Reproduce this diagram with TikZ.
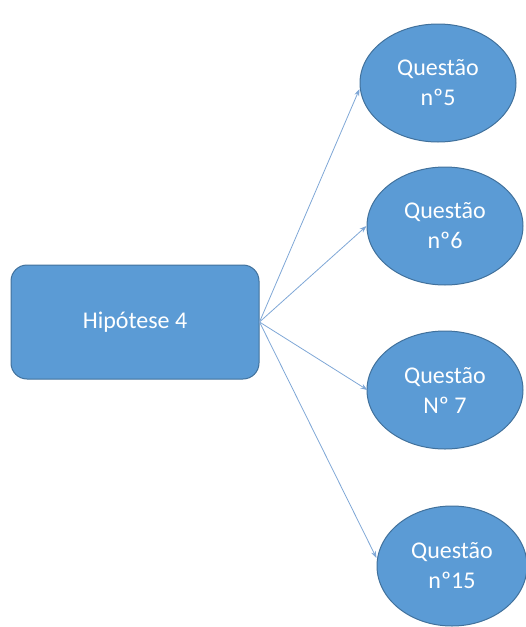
\documentclass[tikz,border=0pt]{standalone}
\usepackage{fontspec}
\setmainfont{Carlito}
\usetikzlibrary{shapes.geometric,arrows.meta}
\definecolor{boxfill}{HTML}{5B9BD5}
\definecolor{boxline}{HTML}{41719C}
\definecolor{linkline}{HTML}{7FA7D6}
\begin{document}
\begin{tikzpicture}[x=1pt,y=-1pt,
  hyp/.style={draw=boxline,line width=1pt,fill=boxfill,rounded corners=16pt,
    minimum width=248pt,minimum height=114pt,text=white,
    font=\fontsize{24}{30}\selectfont},
  quest/.style={ellipse,draw=boxline,line width=1pt,fill=boxfill,
    minimum width=156pt,minimum height=118pt,inner sep=0pt,text=white,
    align=center,font=\fontsize{24}{30}\selectfont},
  link/.style={draw=linkline,line width=0.8pt,-{Stealth[length=7pt,width=5pt]}}]
\useasboundingbox (0,0) rectangle (526,627);
\node[hyp] (h) at (135,322) {Hipótese 4};
\node[quest] (q5) at (438,83) {Questão\\nº5};
\node[quest] (q6) at (445,226) {Questão\\nº6};
\node[quest] (q7) at (445,390) {Questão\\Nº 7};
\node[quest,minimum width=150pt,minimum height=120pt] (q15) at (452,566) {Questão\\nº15};
\draw[link] (h.east) -- ([yshift=-6pt]q5.west);
\draw[link] (h.east) -- (q6.west);
\draw[link] (h.east) -- ([xshift=1pt]q7.west);
\draw[link] (h.east) -- ([yshift=8pt]q15.west);
\end{tikzpicture}
\end{document}
